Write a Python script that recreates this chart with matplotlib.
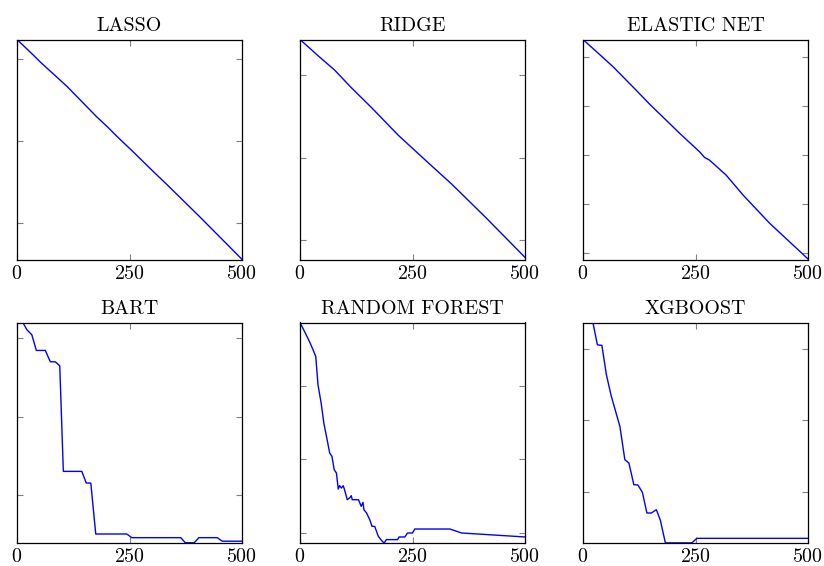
import matplotlib.pyplot as plt

plt.rcParams['font.family'] = 'cmr10'
plt.rcParams['axes.formatter.use_mathtext'] = True

# values (y in arbitrary units, ticks at whole numbers)
lasso_x = [0, 37, 52, 111, 177, 203, 222, 258, 303, 332, 406, 500]
lasso_y = [3.244, 3.050, 2.968, 2.672, 2.301, 2.167, 2.062, 1.874, 1.632, 1.480, 1.081, 0.561]

ridge_x = [0, 40, 77, 114, 159, 218, 285, 337, 411, 500]
ridge_y = [3.432, 3.236, 3.061, 2.848, 2.606, 2.273, 1.937, 1.679, 1.283, 0.790]

enet_x = [0, 37, 67, 118, 148, 215, 259, 270, 281, 318, 356, 415, 500]
enet_y = [5.353, 5.047, 4.797, 4.322, 4.037, 3.441, 3.068, 2.953, 2.898, 2.593, 2.183, 1.610, 0.885]

bart_x = [0, 13, 22, 33, 43, 63, 74, 85, 95, 103, 144, 154, 164, 175, 244, 255, 364, 374,
          394, 404, 445, 456, 500]
bart_y = [3.204, 3.204, 3.111, 3.047, 2.847, 2.847, 2.702, 2.702, 2.651, 1.302, 1.302, 1.153,
          1.153, 0.502, 0.502, 0.455, 0.455, 0.390, 0.390, 0.455, 0.455, 0.410, 0.410]

rf_x = [0, 10, 21, 29, 35, 40, 47, 53, 61, 66, 71, 76, 81, 85, 88, 92, 96, 99, 105, 110, 114,
        116, 130, 136, 140, 142, 148, 155, 160, 166, 174, 181, 187, 192, 217, 220, 233, 239,
        250, 255, 333, 359, 500]
rf_y = [3.860, 3.738, 3.602, 3.489, 3.398, 3.014, 2.765, 2.493, 2.244, 2.086, 2.041, 1.860,
        1.814, 1.597, 1.643, 1.611, 1.643, 1.588, 1.452, 1.475, 1.507, 1.452, 1.452, 1.362,
        1.416, 1.317, 1.271, 1.181, 1.090, 1.090, 0.955, 0.900, 0.864, 0.910, 0.910, 0.946,
        0.946, 1.000, 1.000, 1.054, 1.054, 1.000, 0.946]

xgb_x = [22, 32, 42, 52, 63, 82, 93, 102, 113, 122, 132, 142, 152, 163, 172, 183, 242, 253, 500]
xgb_y = [3.367, 3.056, 3.047, 2.637, 2.335, 1.916, 1.451, 1.405, 1.102, 1.098, 0.995, 0.707,
         0.707, 0.753, 0.605, 0.290, 0.290, 0.353, 0.353]

panels = [
    ('LASSO', lasso_x, lasso_y, (0.553, 3.244), [1, 2, 3]),
    ('RIDGE', ridge_x, ridge_y, (0.758, 3.432), [1, 2, 3]),
    ('ELASTIC NET', enet_x, enet_y, (0.864, 5.353), [1, 2, 3, 4, 5]),
    ('BART', bart_x, bart_y, (0.387, 3.204), [1, 2, 3]),
    ('RANDOM FOREST', rf_x, rf_y, (0.864, 3.860), [1, 2, 3]),
    ('XGBOOST', xgb_x, xgb_y, (0.288, 3.367), [1, 2, 3]),
]

fig = plt.figure(figsize=(8.24, 5.66), dpi=100)
lefts = [17 / 824, 300 / 824, 583 / 824]
bottoms = [(566 - 260) / 566, (566 - 543) / 566]
w = 225 / 824
h = 220.5 / 566

for i, (title, xs, ys, ylim, yt) in enumerate(panels):
    ax = fig.add_axes([lefts[i % 3], bottoms[i // 3], w, h])
    ax.plot(xs, ys, color='#0000ff', lw=1.0)
    ax.set_xlim(0, 500)
    ax.set_ylim(*ylim)
    ax.set_xticks([0, 250, 500])
    ax.set_yticks(yt)
    ax.set_yticklabels([])
    ax.tick_params(direction='in', length=4.5, width=0.8, color='#808080',
                   top=True, right=True, labelsize=14.4, pad=3.5)
    for s in ax.spines.values():
        s.set_linewidth(0.9)
    ax.set_title(title, fontsize=14.4, pad=6)

fig.savefig('out.png', dpi=100)
